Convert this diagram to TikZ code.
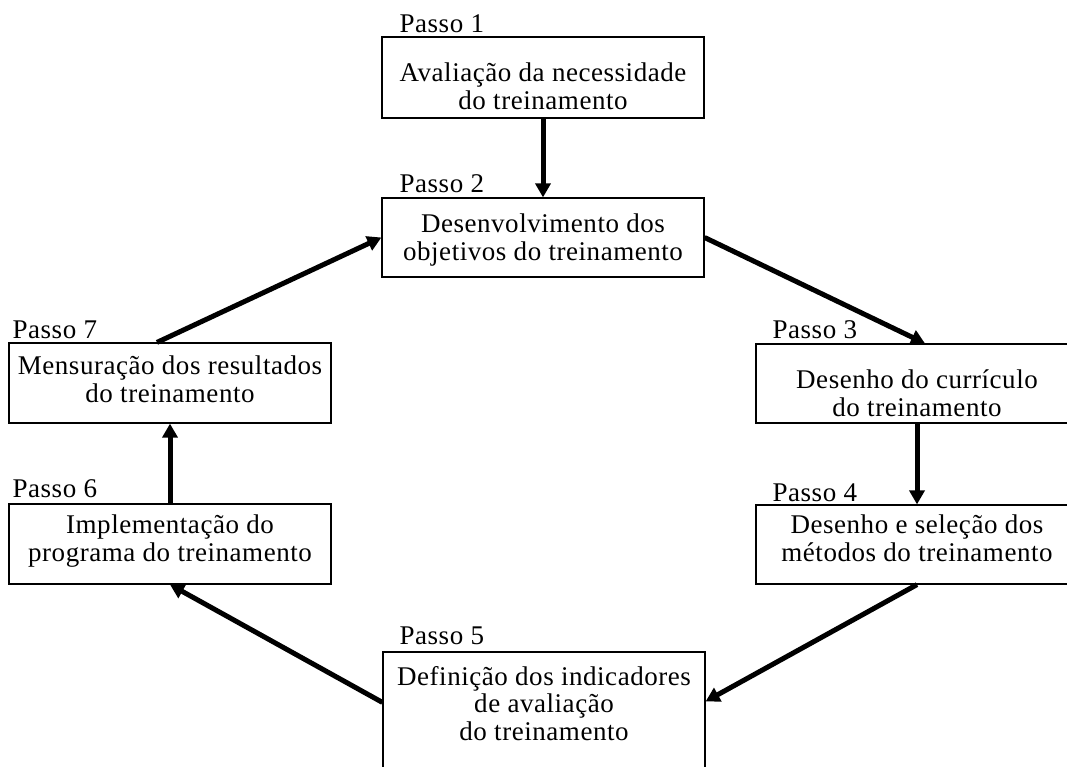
\documentclass[tikz,border=0pt]{standalone}
\usepackage{fontspec}
\setmainfont[LetterSpace=2.0]{Liberation Serif}
\usetikzlibrary{arrows.meta}
\begin{document}
\begin{tikzpicture}[x=1pt,y=-1pt,
  box/.style={draw, line width=1.2pt, minimum width=322pt, inner sep=0pt},
  txt/.style={align=center, inner sep=0pt, anchor=north, font=\fontsize{27}{27.5}\selectfont},
  lab/.style={anchor=base west, inner sep=0pt, font=\fontsize{27}{27.5}\selectfont},
  arr/.style={line width=5pt, -{Triangle[length=14pt,width=15pt]}}
  ]
\useasboundingbox (0,0) rectangle (1067,767);
\clip (0,0) rectangle (1067,767);

\node[box, minimum height=81pt] (b1) at (543,77.5) {};
\node[box, minimum height=79pt] (b2) at (543,237.5) {};
\node[box, minimum height=80pt] (b7) at (170,383) {};
\node[box, minimum height=80pt] (b6) at (170,544) {};
\node[box, minimum height=79pt] (b3) at (917,383.5) {};
\node[box, minimum height=79pt] (b4) at (917,544.5) {};
\node[box, minimum height=124pt] (b5) at (544,714) {};

\node[txt] (t1) at ([yshift=-26.5pt]b1.north) {Avaliação da necessidade\\do treinamento};
\node[txt] (t2) at ([yshift=-16.5pt]b2.north) {Desenvolvimento dos\\objetivos do treinamento};
\node[txt] (t7) at ([yshift=-13.5pt]b7.north) {Mensuração dos resultados\\do treinamento};
\node[txt] (t6) at ([yshift=-11.5pt]b6.north) {Implementação do\\programa do treinamento};
\node[txt] (t3) at ([yshift=-26.5pt]b3.north) {Desenho do currículo\\do treinamento};
\node[txt] (t4) at ([yshift=-10.5pt]b4.north) {Desenho e seleção dos\\métodos do treinamento};
\node[txt] (t5) at ([yshift=-14.5pt]b5.north) {Definição dos indicadores\\de avaliação\\do treinamento};

\node[lab] (l1) at ([xshift=18pt,yshift=4pt]b1.north west) {Passo 1};
\node[lab] (l2) at ([xshift=18pt,yshift=5pt]b2.north west) {Passo 2};
\node[lab] (l3) at ([xshift=17pt,yshift=5pt]b3.north west) {Passo 3};
\node[lab] (l4) at ([xshift=17pt,yshift=3pt]b4.north west) {Passo 4};
\node[lab] (l5) at ([xshift=17pt,yshift=7pt]b5.north west) {Passo 5};
\node[lab] (l6) at ([xshift=4pt,yshift=6pt]b6.north west) {Passo 6};
\node[lab] (l7) at ([xshift=4pt,yshift=4pt]b7.north west) {Passo 7};

\draw[arr] (b1.south) -- (b2.north);
\draw[arr] (b2.east) -- ([xshift=8pt]b3.north);
\draw[arr] (b3.south) -- (b4.north);
\draw[arr] (b4.south) -- ([yshift=-50pt]b5.north east);
\draw[arr] ([yshift=-51pt]b5.north west) -- (b6.south);
\draw[arr] (b6.north) -- (b7.south);
\draw[arr] ([xshift=-13pt]b7.north) -- (b2.west);
\end{tikzpicture}
\end{document}
